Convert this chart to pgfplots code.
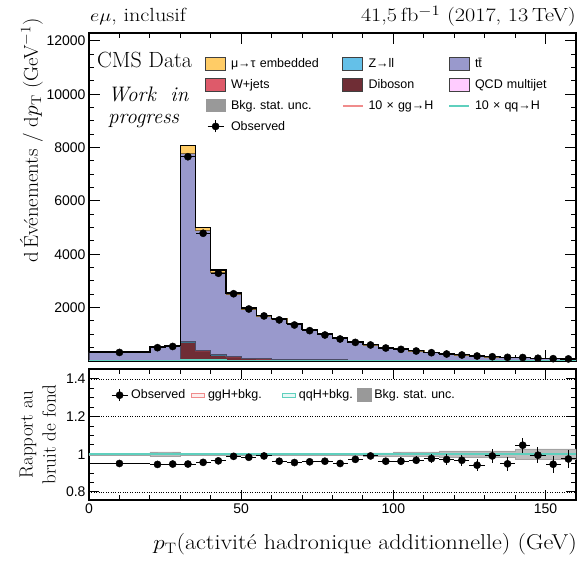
\documentclass[border=0pt]{standalone}
\usepackage{graphicx}
\usepackage{fontspec}
\usepackage{pgfplots}
\usepackage{pgfplotstable}
\pgfplotsset{compat=1.18}
\newfontfamily\sansf{Liberation Sans}
\frenchspacing

\definecolor{cemb}{HTML}{FFCC66}
\definecolor{czll}{HTML}{64C0E8}
\definecolor{ctt}{HTML}{9999CC}
\definecolor{cwj}{HTML}{DE5A6A}
\definecolor{cvv}{HTML}{6F2D35}
\definecolor{cqcd}{HTML}{FFCCFF}
\definecolor{cunc}{HTML}{999999}
\definecolor{cgg}{HTML}{F08C8C}
\definecolor{cqq}{HTML}{5FD0BE}

% simulated stack, per GeV, at bin left edges (last row closes the last bin)
\pgfplotstableread{
x   Q  D    W  Z   tt    E    T
0   1  2    2  4   326   3    338
20  1  4    2  4   512   5    528
25  1  5    2  4   558   5    575
30  1  720  2  15  7032  310  8080
35  1  385  2  10  4517  90   5005
40  1  225  2  8   3099  75   3410
45  1  160  2  6   2336  45   2550
50  1  100  2  5   1839  35   1982
55  1  85   2  5   1582  30   1705
60  1  70   2  4   1495  28   1600
65  1  60   2  4   1320  25   1412
70  1  50   2  3   1108  21   1185
75  1  45   2  3   943   18   1012
80  1  40   2  3   806   15   867
85  1  35   1  2   666   12   717
90  1  30   1  2   562   10   606
95  1  27   1  2   466   9    506
100 1  24   1  2   417   8    453
105 1  21   1  2   355   7    387
110 1  18   1  1   291   6    318
115 1  16   1  1   246   5    270
120 1  14   1  1   211   4    232
125 1  12   1  1   180   4    199
130 1  10   1  1   144   3    160
135 1  9    1  1   129   3    144
140 1  8    1  1   111   2    124
145 1  7    1  1   92    2    104
150 1  6    1  1   81    2    92
155 1  5    1  1   70    2    80
160 1  5    1  1   70    2    80
}\mc

% observed: bin centre, half width, value, error, ratio, ratio error
\pgfplotstableread{
x     ex   O     eO  r      er
10    10   321   4   0.951  0.012
22.5  2.5  499   10  0.946  0.019
27.5  2.5  545   10  0.948  0.018
32.5  2.5  7660  39  0.948  0.005
37.5  2.5  4790  31  0.957  0.006
42.5  2.5  3291  26  0.965  0.0075
47.5  2.5  2522  22  0.989  0.009
52.5  2.5  1950  20  0.984  0.010
57.5  2.5  1690  18  0.991  0.011
62.5  2.5  1541  18  0.963  0.011
67.5  2.5  1350  16  0.956  0.012
72.5  2.5  1138  15  0.960  0.013
77.5  2.5  975   14  0.963  0.014
82.5  2.5  825   13  0.951  0.015
87.5  2.5  698   12  0.973  0.017
92.5  2.5  601   11  0.991  0.018
97.5  2.5  487   10  0.963  0.019
102.5 2.5  436   9   0.963  0.021
107.5 2.5  375   9   0.968  0.022
112.5 2.5  311   8   0.977  0.024
117.5 2.5  262   7   0.972  0.027
122.5 2.5  225   7   0.968  0.029
127.5 2.5  187   6   0.942  0.031
132.5 2.5  159   6   0.991  0.035
137.5 2.5  137   5   0.949  0.036
142.5 2.5  130   5   1.048  0.041
147.5 2.5  103   5   0.995  0.044
152.5 2.5  87    4   0.947  0.045
157.5 2.5  78    4   0.975  0.050
}\obs

% background stat. uncertainty band in the ratio (lower edge, width)
\pgfplotstableread{
x    lo     w
0    0.996  0.008
20   0.988  0.024
25   0.988  0.024
30   0.996  0.008
35   0.996  0.008
40   0.996  0.008
45   0.996  0.008
50   0.996  0.008
55   0.996  0.008
60   0.996  0.008
65   0.996  0.008
70   0.996  0.008
75   0.996  0.008
80   0.995  0.010
85   0.995  0.010
90   0.992  0.016
95   0.992  0.016
100  0.988  0.024
105  0.988  0.024
110  0.988  0.024
115  0.982  0.036
120  0.982  0.036
125  0.982  0.036
130  0.982  0.036
135  0.982  0.036
140  0.972  0.056
145  0.972  0.056
150  0.972  0.056
155  0.972  0.056
160  0.972  0.056
}\band

% signals (x10) and signal+bkg ratios
\pgfplotstableread{
x    gg  qq  rg     rq
0    15  25  1.000  1.001
20   18  28  1.000  1.001
25   18  28  1.000  1.001
30   35  40  1.000  1.001
35   30  35  1.000  1.001
40   25  32  1.000  1.001
45   22  30  1.000  1.001
50   20  28  1.000  1.001
55   18  26  1.000  1.001
60   16  24  1.000  1.001
65   15  22  1.000  1.001
70   14  20  1.000  1.001
75   12  19  1.000  1.001
80   11  18  1.000  1.001
85   10  16  1.000  1.001
90   9   15  1.000  1.001
95   8   14  1.000  1.001
100  7   13  1.000  1.001
105  7   12  1.000  1.001
110  6   11  1.000  1.001
115  6   10  1.000  1.001
120  5   10  1.000  1.001
125  5   9   1.000  1.001
130  5   9   1.000  1.001
135  4   8   1.000  1.001
140  4   8   1.000  1.001
145  4   8   1.000  1.001
150  4   8   1.000  1.001
155  4   8   1.000  1.001
160  4   8   1.000  1.001
}\sig

\newcommand{\legbox}[1]{\addlegendimage{legend image code/.code={\draw[#1] (0pt,-6.5pt) rectangle (20pt,6.5pt);}}}
\newcommand{\legline}[1]{\addlegendimage{legend image code/.code={\draw[#1] (0pt,0pt) -- (20pt,0pt);}}}

\pgfplotsset{
  cmsaxis/.style={
    scale only axis, width=487pt,
    xmin=0, xmax=160,
    xtick={0,50,100,150}, minor x tick num=4,
    tick align=inside,
    major tick length=11pt, minor tick length=5.5pt,
    axis line style={line width=1.2pt},
    every tick/.style={black, line width=1pt},
    tick label style={font=\sansf\fontsize{14}{16}\selectfont},
    scaled ticks=false,
    /pgf/number format/assume math mode=true,
    /pgf/number format/1000 sep={},
    legend cell align=left,
  },
}

\begin{document}
\begin{tikzpicture}
% ---------------- main panel ----------------
\begin{axis}[cmsaxis,
  at={(0pt,139pt)}, anchor=south west, height=328pt,
  ymin=0, ymax=12300,
  ytick={2000,4000,6000,8000,10000,12000},
  yticklabels={2000,4000,6000,8000,10000,12000},
  minor ytick={500,1000,...,12000},
  xticklabels={},
  legend columns=3,
  legend style={at={(0.2382,0.928)}, anchor=north west, draw=none, fill=none,
    inner sep=0pt, row sep=7.5pt, column sep=0pt,
    font=\sansf\fontsize{12.5}{14}\selectfont,
    nodes={inner sep=0pt},
    /tikz/every odd column/.append style={column sep=5pt},
    /tikz/column 2/.style={nodes={text width=111pt}},
    /tikz/column 4/.style={nodes={text width=80pt}},
    /tikz/column 6/.style={nodes={text width=90pt}},
  },
]
\addplot[stack plots=y, const plot, fill=cqcd, draw=cqcd!60!black, line width=0.4pt, forget plot] table[x=x,y=Q]{\mc} \closedcycle;
\addplot[stack plots=y, const plot, fill=cvv, draw=cvv!60!black, line width=0.6pt, forget plot] table[x=x,y=D]{\mc} \closedcycle;
\addplot[stack plots=y, const plot, fill=cwj, draw=cwj!60!black, line width=0.4pt, forget plot] table[x=x,y=W]{\mc} \closedcycle;
\addplot[stack plots=y, const plot, fill=czll, draw=czll!60!black, line width=0.4pt, forget plot] table[x=x,y=Z]{\mc} \closedcycle;
\addplot[stack plots=y, const plot, fill=ctt, draw=ctt!50!black, line width=0.6pt, forget plot] table[x=x,y=tt]{\mc} \closedcycle;
\addplot[stack plots=y, const plot, fill=cemb, draw=cemb!50!black, line width=0.6pt, forget plot] table[x=x,y=E]{\mc} \closedcycle;
\addplot[const plot, black, line width=1.3pt, forget plot] table[x=x,y=T]{\mc};
\addplot[const plot, cgg, line width=1.3pt, forget plot] table[x=x,y=gg]{\sig};
\addplot[const plot, cqq, line width=1.3pt, forget plot] table[x=x,y=qq]{\sig};
\addplot[only marks, mark=*, mark size=3.6pt, black, forget plot,
  error bars/.cd, x dir=both, x explicit, y dir=both, y explicit,
  error mark=none, error bar style={line width=1pt, black}]
  table[x=x, y=O, x error=ex, y error=eO]{\obs};

\legbox{fill=cemb, draw=black!75, line width=0.8pt}
\addlegendentry{μ→τ embedded}
\legbox{fill=czll, draw=black!75, line width=0.8pt}
\addlegendentry{Z→ll}
\legbox{fill=ctt, draw=black!75, line width=0.8pt}
\addlegendentry{t\={t}}
\legbox{fill=cwj, draw=black!75, line width=0.8pt}
\addlegendentry{W+jets}
\legbox{fill=cvv, draw=black!75, line width=0.8pt}
\addlegendentry{Diboson}
\legbox{fill=cqcd, draw=black!75, line width=0.8pt}
\addlegendentry{QCD multijet}
\legbox{fill=cunc, draw=none}
\addlegendentry{Bkg. stat. unc.}
\legline{cgg, line width=1.5pt}
\addlegendentry{10 × gg→H}
\legline{cqq, line width=1.5pt}
\addlegendentry{10 × qq→H}
\addlegendimage{legend image code/.code={\draw[black,line width=1pt] (2pt,0pt) -- (18pt,0pt) (10pt,-6pt) -- (10pt,6pt); \fill[black] (10pt,0pt) circle (3.6pt);}}
\addlegendentry{Observed}
\end{axis}

% ---------------- ratio panel ----------------
\begin{axis}[cmsaxis,
  at={(0pt,0pt)}, anchor=south west, height=131pt,
  ymin=0.757, ymax=1.453,
  ytick={0.8,1,1.2,1.4}, yticklabels={0.8,1,1.2,1.4},
  minor y tick num=3,
  major tick length=10pt, minor tick length=5pt,
  ymajorgrids, major grid style={black, dotted, line width=0.7pt},
  legend columns=4,
  legend style={at={(0.045,0.80)}, anchor=west, draw=none, fill=none,
    inner sep=0pt, column sep=0pt,
    font=\sansf\fontsize{12.5}{14}\selectfont,
    nodes={inner sep=0pt},
    /tikz/every odd column/.append style={column sep=3pt},
    /tikz/column 2/.style={nodes={text width=60pt}},
    /tikz/column 4/.style={nodes={text width=74pt}},
    /tikz/column 6/.style={nodes={text width=58pt}},
    /tikz/column 8/.style={nodes={text width=90pt}},
  },
]
\addplot[stack plots=y, const plot, draw=none, fill=none, forget plot] table[x=x,y=lo]{\band};
\addplot[stack plots=y, const plot, fill=cunc!65, draw=cunc!90, line width=0.5pt, forget plot] table[x=x,y=w]{\band} \closedcycle;
\addplot[const plot, cgg, line width=1.3pt, forget plot] table[x=x,y=rg]{\sig};
\addplot[const plot, cqq, line width=1.3pt, forget plot] table[x=x,y=rq]{\sig};
\addplot[only marks, mark=*, mark size=3.6pt, black, forget plot,
  error bars/.cd, x dir=both, x explicit, y dir=both, y explicit,
  error mark=none, error bar style={line width=1pt, black}]
  table[x=x, y=r, x error=ex, y error=er]{\obs};

\addlegendimage{legend image code/.code={\draw[black,line width=1pt] (0pt,0pt) -- (16pt,0pt) (8pt,-6pt) -- (8pt,6pt); \fill[black] (8pt,0pt) circle (3.6pt);}}
\addlegendentry{Observed}
\addlegendimage{legend image code/.code={\draw[cgg, fill=cgg!15, line width=0.9pt] (0pt,-2pt) rectangle (13pt,2pt);}}
\addlegendentry{ggH+bkg.}
\addlegendimage{legend image code/.code={\draw[cqq, fill=cqq!15, line width=0.9pt] (0pt,-2pt) rectangle (13pt,2pt);}}
\addlegendentry{qqH+bkg.}
\addlegendimage{legend image code/.code={\fill[cunc] (0pt,-6.5pt) rectangle (14pt,6.5pt);}}
\addlegendentry{Bkg. stat. unc.}
\end{axis}

% ---------------- texts ----------------
\node[anchor=base west, font=\fontsize{19}{22}\selectfont, inner sep=0pt] at (1pt,478pt) {\scalebox{1.17}[1]{$e\mu$, inclusif}};
\node[anchor=base east, font=\fontsize{19}{22}\selectfont, inner sep=0pt] at (487pt,478pt) {\scalebox{1.17}[1]{41,5\,fb$^{-1}$ (2017, 13\,TeV)}};
\node[anchor=base west, font=\fontsize{22}{24}\selectfont, inner sep=0pt] at (8pt,432pt) {CMS Data};
\node[anchor=base west, font=\itshape\fontsize{21}{24}\selectfont, inner sep=0pt] at (19pt,398pt) {Work\ \ in};
\node[anchor=base west, font=\itshape\fontsize{21}{24}\selectfont, inner sep=0pt] at (19pt,376pt) {progress};
\node[rotate=90, anchor=base east, font=\fontsize{20}{24}\selectfont, inner sep=0pt] at (-51pt,482pt) {\scalebox{1.04}[1]{d\,Événements / d$p_{\mathrm{T}}$ (GeV$^{-1}$)}};
\node[rotate=90, anchor=south, align=center, font=\fontsize{19}{23}\selectfont, inner sep=0pt] at (-33pt,65.5pt) {Rapport au\\bruit de fond};
\node[anchor=base east, font=\fontsize{21.5}{24}\selectfont, inner sep=0pt] at (488pt,-50pt) {\scalebox{1.12}[1]{$p_{\mathrm{T}}$(activité hadronique additionnelle) (GeV)}};

\pgfresetboundingbox
\path (-89pt,-64pt) rectangle (490pt,500pt);
\end{tikzpicture}
\end{document}
